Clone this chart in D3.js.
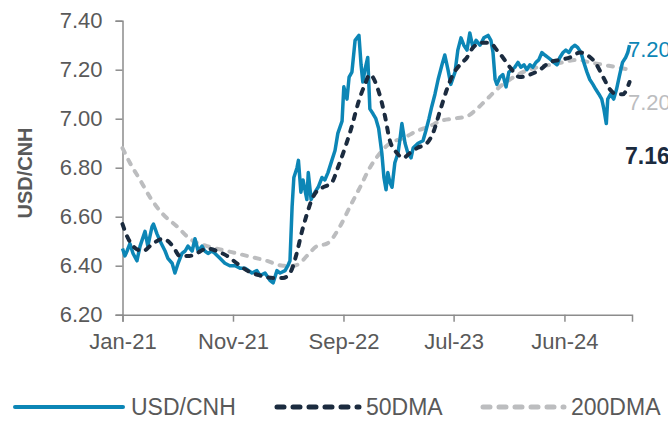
<!DOCTYPE html>
<html>
<head>
<meta charset="utf-8" />
<title>USD/CNH</title>
<script src="https://cdn.jsdelivr.net/npm/d3@7"></script>
<style>
body {
	margin: 0;
	padding: 0;
	background-color: #fff;
	font-family: "Liberation Sans", Arial, sans-serif;
}
svg {
	display: block;
}
.axis text {
	font-size: 22px;
	fill: #595959;
}
.axis path, .axis line {
	stroke: #8c8c8c;
	stroke-width: 1.5px;
}
</style>
</head>
<body>
<svg></svg>
<script>

/*********** data ***********/
var spotDates = ["2021-01-01","2021-01-08","2021-01-14","2021-01-22","2021-01-31","2021-02-11","2021-02-20","2021-03-06","2021-03-14","2021-03-26","2021-03-30","2021-04-09","2021-04-18","2021-05-02","2021-05-10","2021-05-22","2021-05-30","2021-06-08","2021-06-19","2021-06-28","2021-07-06","2021-07-18","2021-07-26","2021-08-04","2021-08-15","2021-08-23","2021-09-01","2021-09-12","2021-09-21","2021-10-05","2021-10-19","2021-11-02","2021-11-17","2021-12-01","2021-12-15","2022-01-04","2022-01-18","2022-01-27","2022-02-10","2022-02-24","2022-03-05","2022-03-16","2022-03-25","2022-04-08","2022-04-16","2022-04-22","2022-04-28","2022-05-03","2022-05-12","2022-05-16","2022-05-23","2022-05-29","2022-06-09","2022-06-13","2022-06-21","2022-07-02","2022-07-11","2022-07-22","2022-07-30","2022-08-08","2022-08-19","2022-08-28","2022-09-05","2022-09-17","2022-09-22","2022-10-01","2022-10-07","2022-10-15","2022-10-24","2022-11-04","2022-11-10","2022-11-15","2022-11-21","2022-11-29","2022-12-05","2022-12-14","2022-12-22","2022-12-30","2023-01-08","2023-01-14","2023-01-20","2023-01-25","2023-01-31","2023-02-06","2023-02-14","2023-02-23","2023-03-01","2023-03-06","2023-03-15","2023-03-23","2023-04-01","2023-04-07","2023-04-21","2023-05-05","2023-05-13","2023-05-22","2023-05-30","2023-06-08","2023-06-17","2023-06-28","2023-07-06","2023-07-15","2023-07-23","2023-08-04","2023-08-12","2023-08-21","2023-08-29","2023-09-07","2023-09-15","2023-09-24","2023-10-03","2023-10-14","2023-10-25","2023-11-06","2023-11-14","2023-11-20","2023-11-26","2023-12-01","2023-12-10","2023-12-18","2023-12-27","2024-01-04","2024-01-13","2024-01-21","2024-01-30","2024-02-07","2024-02-16","2024-02-24","2024-03-04","2024-03-12","2024-03-21","2024-03-29","2024-04-07","2024-04-15","2024-04-24","2024-05-03","2024-05-11","2024-05-20","2024-05-28","2024-06-06","2024-06-14","2024-06-23","2024-07-01","2024-07-10","2024-07-18","2024-07-27","2024-08-04","2024-08-13","2024-08-21","2024-08-30","2024-09-07","2024-09-16","2024-09-24","2024-09-30","2024-10-07","2024-10-11","2024-10-19","2024-10-28","2024-11-05","2024-11-14","2024-11-22","2024-12-01","2024-12-07","2024-12-12"];
var spotValues = [6.47,6.44,6.46,6.49,6.45,6.42,6.48,6.54,6.48,6.56,6.57,6.53,6.50,6.46,6.43,6.41,6.37,6.41,6.45,6.46,6.48,6.46,6.51,6.46,6.48,6.46,6.45,6.46,6.45,6.43,6.41,6.40,6.40,6.39,6.39,6.37,6.38,6.36,6.37,6.34,6.33,6.38,6.37,6.38,6.40,6.42,6.64,6.76,6.80,6.83,6.70,6.75,6.67,6.78,6.67,6.70,6.72,6.76,6.75,6.78,6.83,6.87,6.94,6.99,7.13,7.08,7.17,7.19,7.32,7.34,7.22,7.15,7.20,7.25,7.04,7.02,7.00,6.96,6.86,6.76,6.71,6.78,6.74,6.72,6.82,6.86,6.92,6.98,6.90,6.86,6.84,6.88,6.90,6.91,6.95,7.00,7.05,7.10,7.16,7.22,7.26,7.20,7.14,7.19,7.28,7.33,7.30,7.28,7.35,7.29,7.32,7.30,7.33,7.34,7.32,7.27,7.16,7.14,7.17,7.18,7.13,7.19,7.20,7.21,7.23,7.21,7.22,7.20,7.22,7.21,7.23,7.24,7.27,7.26,7.25,7.24,7.23,7.22,7.25,7.27,7.28,7.27,7.29,7.30,7.29,7.27,7.23,7.19,7.16,7.14,7.12,7.10,7.08,7.04,6.98,7.08,7.10,7.08,7.12,7.18,7.23,7.25,7.27,7.30];

var dma50Dates = ["2021-01-01","2021-01-14","2021-01-31","2021-02-28","2021-03-28","2021-04-26","2021-05-24","2021-06-13","2021-07-11","2021-07-30","2021-08-29","2021-09-26","2021-10-25","2021-11-22","2021-12-21","2022-01-27","2022-03-05","2022-04-02","2022-04-22","2022-05-01","2022-05-11","2022-05-26","2022-06-09","2022-06-23","2022-07-11","2022-07-25","2022-08-19","2022-09-05","2022-09-25","2022-10-15","2022-11-01","2022-11-21","2022-12-05","2022-12-28","2023-01-17","2023-01-31","2023-02-20","2023-03-09","2023-03-29","2023-04-18","2023-05-16","2023-06-02","2023-06-22","2023-07-12","2023-07-29","2023-08-18","2023-09-07","2023-09-24","2023-10-20","2023-11-11","2023-12-01","2023-12-18","2024-01-07","2024-02-04","2024-03-04","2024-04-01","2024-04-29","2024-05-28","2024-06-26","2024-07-24","2024-08-13","2024-09-05","2024-09-28","2024-10-17","2024-11-06","2024-11-23","2024-12-12"];
var dma50Values = [6.57,6.52,6.48,6.46,6.49,6.51,6.48,6.44,6.44,6.45,6.47,6.46,6.44,6.41,6.38,6.36,6.35,6.35,6.37,6.40,6.45,6.54,6.61,6.67,6.71,6.72,6.74,6.80,6.88,6.97,7.06,7.14,7.18,7.12,7.01,6.91,6.86,6.84,6.86,6.88,6.90,6.94,7.03,7.12,7.18,7.22,7.25,7.29,7.31,7.31,7.28,7.25,7.21,7.17,7.18,7.20,7.23,7.24,7.25,7.27,7.26,7.23,7.17,7.12,7.10,7.10,7.15];

var dma200Dates = ["2021-01-01","2021-01-22","2021-02-20","2021-03-20","2021-04-26","2021-06-05","2021-07-11","2021-08-29","2021-10-25","2021-12-21","2022-02-15","2022-04-02","2022-05-01","2022-05-20","2022-06-09","2022-07-08","2022-08-05","2022-09-11","2022-10-09","2022-11-07","2022-12-05","2023-01-03","2023-01-31","2023-03-09","2023-04-18","2023-05-25","2023-06-22","2023-07-29","2023-09-07","2023-10-05","2023-11-03","2023-12-01","2024-01-07","2024-02-13","2024-03-24","2024-04-29","2024-06-05","2024-07-15","2024-08-21","2024-09-28","2024-11-06","2024-12-12"];
var dma200Values = [6.88,6.82,6.75,6.68,6.61,6.56,6.51,6.48,6.46,6.44,6.42,6.40,6.40,6.41,6.44,6.48,6.49,6.56,6.64,6.72,6.80,6.86,6.90,6.92,6.95,6.97,6.99,7.00,7.01,7.04,7.08,7.12,7.16,7.19,7.21,7.22,7.23,7.24,7.23,7.22,7.21,7.20];

var xTickDates = ["2021-01-01","2021-11-11","2022-09-21","2023-07-31","2024-06-10"];
var xTickLabels = ["Jan-21","Nov-21","Sep-22","Jul-23","Jun-24"];
var yTicks = [6.2,6.4,6.6,6.8,7.0,7.2,7.4];

var seriesNames = ["USD/CNH","50DMA","200DMA"];
// last-value labels: spot, 200DMA, 50DMA (top to bottom as shown)
var lastLabels = ["7.20","7.20","7.16"];

/*********** setup ***********/
var w = 668, h = 421;
var colors = ["#0c86b6","#1b2b3f","#bcbdbf"];

var parse = d3.timeParse("%Y-%m-%d");
var svg = d3.select("svg").attr("width",w).attr("height",h);

var x = d3.scaleTime()
	.domain([parse("2021-01-01"), parse("2024-12-19")])
	.range([122.5, 632]);
var y = d3.scaleLinear()
	.domain([6.2, 7.4])
	.range([314.7, 20.7]);

function toPoints(dates, values) {
	return dates.map(function(d,i) { return {date:parse(d), value:values[i]}; });
}
var series = [
	toPoints(spotDates, spotValues),
	toPoints(dma50Dates, dma50Values),
	toPoints(dma200Dates, dma200Values)
];

var line = d3.line()
	.x(function(d) { return x(d.date); })
	.y(function(d) { return y(d.value); });
var smooth = d3.line()
	.x(function(d) { return x(d.date); })
	.y(function(d) { return y(d.value); })
	.curve(d3.curveMonotoneX);

/*********** axes ***********/
svg.append("g")
	.attr("class","axis")
	.attr("transform","translate(122.5,0)")
	.call(d3.axisLeft(y).tickValues(yTicks).tickFormat(d3.format(".2f")).tickSizeOuter(0).tickSize(7).tickPadding(13));

svg.append("g")
	.attr("class","axis")
	.attr("transform","translate(0,314.7)")
	.call(d3.axisBottom(x)
		.tickValues(xTickDates.map(parse))
		.tickFormat(function(d,i) { return xTickLabels[i]; })
		.tickSizeOuter(0).tickSize(7).tickPadding(12));

svg.append("text")
	.attr("transform","translate(32,173) rotate(-90)")
	.attr("text-anchor","middle")
	.style("font-size","20px")
	.style("font-weight","bold")
	.style("fill","#595959")
	.text("USD/CNH");

/*********** lines: 200DMA below, spot, then 50DMA on top ***********/
svg.append("path")
	.datum(series[2])
	.attr("d",smooth)
	.attr("fill","none")
	.attr("stroke",colors[2])
	.attr("stroke-width",4)
	.attr("stroke-linecap","round")
	.attr("stroke-dasharray","5,8");

svg.append("path")
	.datum(series[0])
	.attr("d",line)
	.attr("fill","none")
	.attr("stroke",colors[0])
	.attr("stroke-width",3.5)
	.attr("stroke-linejoin","round");

svg.append("path")
	.datum(series[1])
	.attr("d",smooth)
	.attr("fill","none")
	.attr("stroke",colors[1])
	.attr("stroke-width",4)
	.attr("stroke-linecap","round")
	.attr("stroke-dasharray","5,8");

/*********** end labels ***********/
var labelPos = [[628,57,"normal",0,22],[628,110,"normal",2,22],[625,164,"bold",1,23]];
svg.selectAll(".lastlabel")
	.data(lastLabels)
	.enter().append("text")
	.attr("class","lastlabel")
	.attr("x",function(d,i){ return labelPos[i][0]; })
	.attr("y",function(d,i){ return labelPos[i][1]; })
	.style("font-size",function(d,i){ return labelPos[i][4]+"px"; })
	.style("font-weight",function(d,i){ return labelPos[i][2]; })
	.style("fill",function(d,i){ return colors[labelPos[i][3]]; })
	.text(function(d){ return d; });

/*********** legend ***********/
var legendX = [[15,123,131],[277,359,366],[483,564,571]];
var lg = svg.selectAll(".legend")
	.data(seriesNames)
	.enter().append("g")
	.attr("class","legend");
lg.append("line")
	.attr("x1",function(d,i){ return legendX[i][0]; })
	.attr("x2",function(d,i){ return legendX[i][1]; })
	.attr("y1",407).attr("y2",407)
	.attr("stroke",function(d,i){ return colors[i]; })
	.attr("stroke-width",function(d,i){ return i==0 ? 4 : 5; })
	.attr("stroke-linecap","round")
	.attr("stroke-dasharray",function(d,i){ return i==0 ? null : "7,9"; });
lg.append("text")
	.attr("x",function(d,i){ return legendX[i][2]; })
	.attr("y",415)
	.style("font-size","23px")
	.style("fill","#595959")
	.text(function(d){ return d; });

</script>
</body>
</html>
